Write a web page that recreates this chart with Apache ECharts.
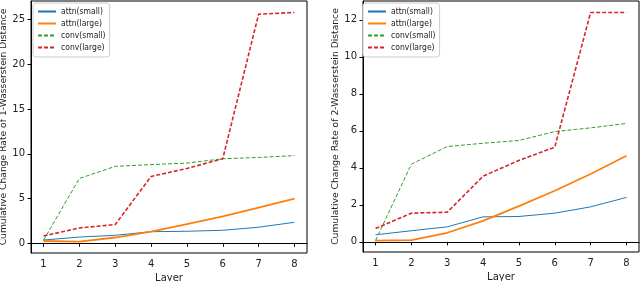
<!DOCTYPE html>
<html><head><meta charset="utf-8">
<script src="https://cdn.jsdelivr.net/npm/echarts@6/dist/echarts.min.js"></script>
<style>html,body{margin:0;padding:0;background:#fff}#c{width:640px;height:281px}</style>
</head><body><div id="c"></div>
<script>
const layers = [1, 2, 3, 4, 5, 6, 7, 8];
const seriesNames = ['attn(small)', 'attn(large)', 'conv(small)', 'conv(large)'];
// Left: 1-Wasserstein
const w1AttnSmall = [0.37, 0.7, 0.9, 1.3, 1.35, 1.46, 1.8, 2.35];
const w1AttnLarge = [0.26, 0.2, 0.65, 1.3, 2.15, 3.0, 4.0, 5.0];
const w1ConvSmall = [0.35, 7.25, 8.6, 8.8, 8.97, 9.45, 9.6, 9.8];
const w1ConvLarge = [0.82, 1.72, 2.1, 7.47, 8.37, 9.45, 25.6, 25.8];
// Right: 2-Wasserstein
const w2AttnSmall = [0.38, 0.6, 0.81, 1.35, 1.37, 1.55, 1.89, 2.4];
const w2AttnLarge = [0.07, 0.09, 0.49, 1.13, 1.93, 2.76, 3.67, 4.65];
const w2ConvSmall = [0.07, 4.2, 5.15, 5.33, 5.48, 5.96, 6.16, 6.4];
const w2ConvLarge = [0.72, 1.55, 1.6, 3.55, 4.4, 5.12, 12.4, 12.4];
const xTicks = [1, 2, 3, 4, 5, 6, 7, 8];
const yTicksLeft = [0, 5, 10, 15, 20, 25];
const yTicksRight = [0, 2, 4, 6, 8, 10, 12];

const colors = ['#1f77b4', '#ff7f0e', '#2ca02c', '#d62728'];
const widths = [1, 1.8, 1, 1.6];
const types = ['solid', 'solid', [4, 2], [4, 2]];
const font = 'DejaVu Sans';
const txt = '#222';

function xAx(gi) {
  return {
    type: 'value', gridIndex: gi, min: 0.65, max: 8.35,
    name: 'Layer', nameLocation: 'middle', nameGap: 17,
    nameTextStyle: {fontFamily: font, fontSize: 10, color: txt},
    axisLine: {show: true, lineStyle: {color: '#000', width: 1}},
    axisTick: {show: true, length: 3.5, lineStyle: {color: '#000'}, customValues: xTicks},
    axisLabel: {fontFamily: font, fontSize: 10, color: txt, margin: 6, customValues: xTicks},
    splitLine: {show: false}
  };
}
function yAx(gi, min, max, ticks, name, gap) {
  return {
    type: 'value', gridIndex: gi, min: min, max: max,
    name: name, nameLocation: 'middle', nameGap: gap,
    nameTextStyle: {fontFamily: font, fontSize: 9.2, color: txt},
    axisLine: {show: true, lineStyle: {color: '#000', width: 1}},
    axisTick: {show: true, length: 3.5, lineStyle: {color: '#000'}, customValues: ticks},
    axisLabel: {fontFamily: font, fontSize: 10, color: txt, margin: 6, customValues: ticks},
    splitLine: {show: false}
  };
}
function mk(gi, arrs) {
  return arrs.map((a, i) => ({
    name: seriesNames[i], type: 'line', xAxisIndex: gi, yAxisIndex: gi,
    data: layers.map((l, j) => [l, a[j]]),
    symbol: 'none', silent: true, animation: false,
    lineStyle: {color: colors[i], width: widths[i], type: types[i]},
    itemStyle: {color: colors[i]}
  }));
}
function leg(left) {
  return {
    orient: 'vertical', left: left, top: 3, itemWidth: 18, itemHeight: 10, itemGap: 3,
    data: seriesNames, padding: [4, 4, 5, 4],
    backgroundColor: '#fff', borderColor: '#ccc', borderWidth: 1, borderRadius: 3,
    itemStyle: {opacity: 0},
    textStyle: {fontFamily: 'DejaVu Sans Condensed', fontSize: 8.5, color: txt},
    selectedMode: false
  };
}
const chart = echarts.init(document.getElementById('c'), null, {renderer: 'canvas'});
chart.setOption({
  animation: false,
  grid: [
    {left: 31, right: 333, top: 1, bottom: 28, show: true, borderColor: '#000', borderWidth: 1, outerBoundsMode: 'none', containLabel: false},
    {left: 363, right: 1, top: 1, bottom: 29, show: true, borderColor: '#000', borderWidth: 1, outerBoundsMode: 'none', containLabel: false}
  ],
  xAxis: [xAx(0), xAx(1)],
  yAxis: [
    yAx(0, -1.08, 27.08, yTicksLeft, 'Cumulative Change Rate of 1-Wasserstein Distance', 21),
    yAx(1, -0.55, 13.02, yTicksRight, 'Cumulative Change Rate of 2-Wasserstein Distance', 22)
  ],
  legend: [leg(33), leg(363)],
  series: mk(0, [w1AttnSmall, w1AttnLarge, w1ConvSmall, w1ConvLarge])
    .concat(mk(1, [w2AttnSmall, w2AttnLarge, w2ConvSmall, w2ConvLarge]))
});
</script></body></html>
